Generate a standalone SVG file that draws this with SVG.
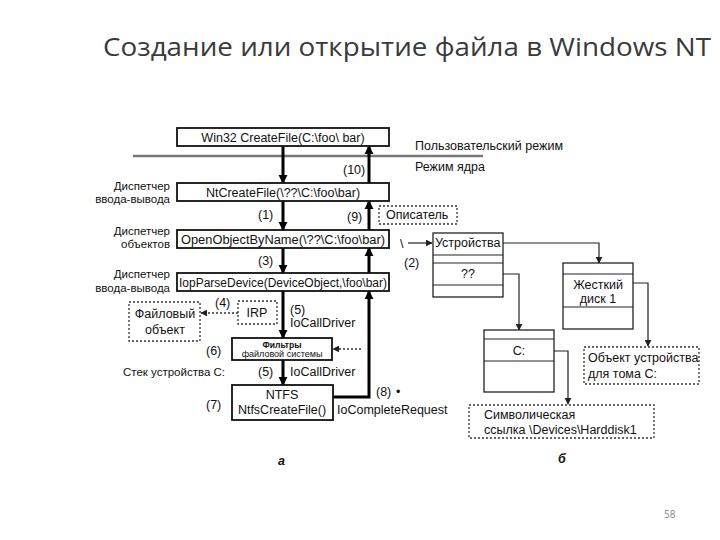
<svg xmlns="http://www.w3.org/2000/svg" width="720" height="540" viewBox="0 0 720 540">
<defs>
<style>
text{font-family:"Liberation Sans",Arial,sans-serif;fill:#111}
.t{font-size:12.5px}
.s{font-size:11.5px}
.box{fill:#fff;stroke:#111;stroke-width:1.8}
.tbl{fill:#fff;stroke:#222;stroke-width:1.3}
.dot{fill:#fff;stroke:#333;stroke-width:1.3;stroke-dasharray:2 2}
.main{stroke:#000;stroke-width:3;fill:none}
.thin{stroke:#222;stroke-width:1.2;fill:none}
.dl{stroke:#333;stroke-width:1.6;fill:none;stroke-dasharray:2 2}
</style>
<marker id="ah" viewBox="0 0 10 10" refX="9" refY="5" markerWidth="9" markerHeight="10" markerUnits="userSpaceOnUse" orient="auto"><path d="M0,0L10,5L0,10z" fill="#000"/></marker>
<marker id="as" viewBox="0 0 10 10" refX="9" refY="5" markerWidth="7" markerHeight="7" markerUnits="userSpaceOnUse" orient="auto"><path d="M0,0L10,5L0,10z" fill="#222"/></marker>
</defs>
<rect width="720" height="540" fill="#fff"/>
<text x="103" y="56" style="font-family:'Open Sans','Noto Sans',sans-serif;font-size:25px;fill:#3a3a3a" textLength="608" lengthAdjust="spacingAndGlyphs">Создание или открытие файла в Windows NT</text>

<line x1="133" y1="156" x2="483" y2="156" stroke="#777" stroke-width="2.5"/>
<text class="t" x="415" y="150">Пользовательский режим</text>
<text class="t" x="415" y="171">Режим ядра</text>

<g id="labels-left" class="s" text-anchor="end">
<text x="170" y="190">Диспетчер</text><text x="170" y="203">ввода-вывода</text>
<text x="170" y="235">Диспетчер</text><text x="170" y="248">объектов</text>
<text x="170" y="278">Диспетчер</text><text x="170" y="292">ввода-вывода</text>
</g>

<g id="connectors">
<line class="main" x1="283" y1="146" x2="283" y2="183" marker-end="url(#ah)"/>
<line class="main" x1="283" y1="201" x2="283" y2="230" marker-end="url(#ah)"/>
<line class="main" x1="283" y1="248" x2="283" y2="273" marker-end="url(#ah)"/>
<line class="main" x1="283" y1="291" x2="283" y2="338" marker-end="url(#ah)"/>
<line class="main" x1="283" y1="360" x2="283" y2="385" marker-end="url(#ah)"/>
<line class="main" x1="369" y1="183" x2="369" y2="146" marker-end="url(#ah)"/>
<line class="main" x1="369" y1="230" x2="369" y2="201" marker-end="url(#ah)"/>
<line class="main" x1="369" y1="273" x2="369" y2="248" marker-end="url(#ah)"/>
<polyline class="main" points="333,397 369,397 369,291" marker-end="url(#ah)"/>
<line class="dl" x1="238" y1="313" x2="201" y2="313" marker-end="url(#as)"/>
<line class="dl" x1="361" y1="349" x2="333" y2="349" marker-end="url(#as)"/>
<line class="thin" x1="408" y1="243" x2="432" y2="243" marker-end="url(#as)"/>
<polyline class="thin" points="503,243 599,243 599,263" marker-end="url(#as)"/>
<polyline class="thin" points="503,274 519,274 519,330" marker-end="url(#as)"/>
<polyline class="thin" points="633,283 648,283 648,346" marker-end="url(#as)"/>
<polyline class="thin" points="554,351 568,351 568,404" marker-end="url(#as)"/>
</g>

<g id="n-win32"><rect class="box" x="177" y="128" width="212" height="18"/><text class="t" x="283" y="141.5" text-anchor="middle">Win32 CreateFile(C:\foo\ bar)</text></g>
<g id="n-nt"><rect class="box" x="177" y="183" width="212" height="18"/><text class="t" x="283" y="196.5" text-anchor="middle">NtCreateFile(\??\C:\foo\bar)</text></g>
<g id="n-oobn"><rect class="box" x="177" y="230" width="212" height="18"/><text class="t" x="283" y="243.5" text-anchor="middle" textLength="204" lengthAdjust="spacingAndGlyphs">OpenObjectByName(\??\C:\foo\bar)</text></g>
<g id="n-iop"><rect class="box" x="177" y="273" width="212" height="18"/><text class="t" x="283" y="286.5" text-anchor="middle" textLength="208" lengthAdjust="spacingAndGlyphs">IopParseDevice(DeviceObject,\foo\bar)</text></g>
<g id="n-filt"><rect class="box" x="232" y="338" width="100" height="22"/><text x="282" y="347.5" text-anchor="middle" style="font-size:8.5px;font-weight:bold">Фильтры</text><text x="282" y="357" text-anchor="middle" style="font-size:9px">файловой системы</text></g>
<g id="n-ntfs"><rect class="box" x="232" y="385" width="101" height="35"/><text class="t" x="282" y="399" text-anchor="middle">NTFS</text><text class="t" x="282" y="414" text-anchor="middle">NtfsCreateFile()</text></g>
<g id="n-file"><rect class="dot" x="129" y="302" width="71" height="39"/><text class="t" x="165" y="318" text-anchor="middle">Файловый</text><text class="t" x="165" y="334" text-anchor="middle">объект</text></g>
<g id="n-irp"><rect class="dot" x="238" y="301" width="39" height="23"/><text class="t" x="257" y="317" text-anchor="middle">IRP</text></g>
<g id="n-opis"><rect class="dot" x="379" y="206" width="78" height="18"/><text class="t" x="386" y="219">Описатель</text></g>

<g id="n-dev"><rect class="tbl" x="433" y="233" width="70" height="64"/><line class="thin" x1="433" y1="255" x2="503" y2="255"/><line class="thin" x1="433" y1="263" x2="503" y2="263"/><line class="thin" x1="433" y1="285" x2="503" y2="285"/><text class="t" x="435" y="247">Устройства</text><text class="t" x="468" y="278" text-anchor="middle">??</text></g>
<g id="n-disk"><rect class="tbl" x="563" y="263" width="70" height="66"/><line class="thin" x1="563" y1="274" x2="633" y2="274"/><line class="thin" x1="563" y1="307" x2="633" y2="307"/><text class="t" x="598" y="289" text-anchor="middle">Жесткий</text><text class="t" x="598" y="303" text-anchor="middle">диск 1</text></g>
<g id="n-c"><rect class="tbl" x="484" y="330" width="70" height="62"/><line class="thin" x1="484" y1="339" x2="554" y2="339"/><line class="thin" x1="484" y1="361" x2="554" y2="361"/><text class="t" x="519" y="355" text-anchor="middle">C:</text></g>
<g id="n-obj"><rect class="dot" x="584" y="347" width="115" height="37"/><text class="t" x="588" y="362">Объект устройства</text><text class="t" x="588" y="378">для тома С:</text></g>
<g id="n-sym"><rect class="dot" x="469" y="405" width="185" height="33"/><text class="t" x="484" y="419">Символическая</text><text class="t" x="484" y="434">ссылка \Devices\Harddisk1</text></g>

<g id="step-labels" class="t">
<text x="343" y="174">(10)</text>
<text x="258" y="219">(1)</text>
<text x="347" y="221">(9)</text>
<text x="258" y="265">(3)</text>
<text x="400" y="248">\</text>
<text x="404" y="267">(2)</text>
<text x="215" y="307">(4)</text>
<text x="290" y="314">(5)</text>
<text x="290" y="327">IoCallDriver</text>
<text x="206" y="355">(6)</text>
<text class="s" x="123" y="376">Стек устройства С:</text>
<text x="258" y="376">(5)</text>
<text x="290" y="376">IoCallDriver</text>
<text x="206" y="409">(7)</text>
<text x="376" y="396">(8)</text>
<text x="396" y="396">•</text>
<text x="337" y="414">IoCompleteRequest</text>
<text x="278" y="465" style="font-style:italic;font-weight:bold">а</text>
<text x="558" y="463" style="font-style:italic;font-weight:bold">б</text>
</g>
<text x="664" y="518" style="font-family:'Open Sans',sans-serif;font-size:10px;fill:#888">58</text>
</svg>
